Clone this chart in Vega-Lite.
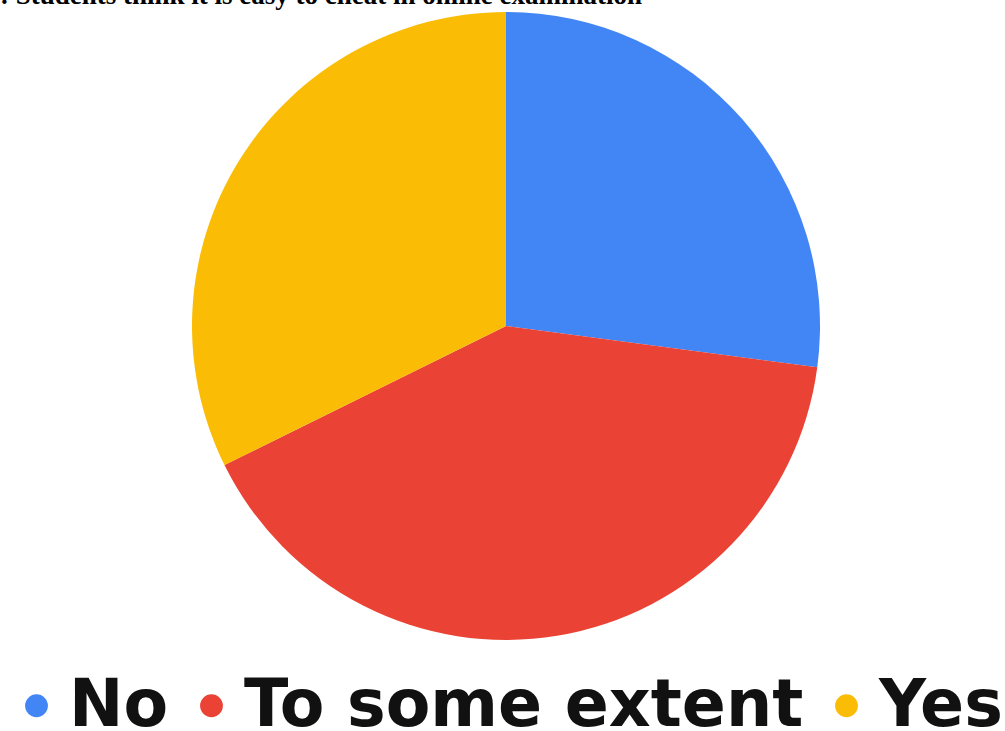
{
  "$schema": "https://vega.github.io/schema/vega-lite/v6.json",
  "autosize": "none",
  "width": 1004,
  "height": 652,
  "padding": {"left": 4, "top": 0, "right": 0, "bottom": 79},
  "background": "white",
  "title": {
    "text": ": Students think it is easy to cheat in online examination",
    "anchor": "start",
    "frame": "group",
    "font": "Liberation Serif",
    "fontSize": 27,
    "fontWeight": "bold",
    "color": "#000000",
    "baseline": "alphabetic",
    "offset": 0,
    "dx": -4,
    "dy": 31
  },
  "data": {
    "values": [
      {"answer": "No", "share": 27.1, "order": 1},
      {"answer": "To some extent", "share": 40.6, "order": 2},
      {"answer": "Yes", "share": 32.3, "order": 3}
    ]
  },
  "mark": {"type": "arc", "outerRadius": 314, "stroke": null},
  "encoding": {
    "theta": {"field": "share", "type": "quantitative", "stack": true},
    "order": {"field": "order", "type": "quantitative"},
    "color": {
      "field": "answer",
      "type": "nominal",
      "sort": ["No", "To some extent", "Yes"],
      "scale": {
        "domain": ["No", "To some extent", "Yes"],
        "range": ["#4285F4", "#EA4335", "#FBBC05"]
      },
      "legend": {
        "orient": "bottom",
        "direction": "horizontal",
        "title": null,
        "offset": 21,
        "symbolType": "circle",
        "symbolSize": 520,
        "symbolStrokeWidth": 0,
        "labelFont": "DejaVu Sans",
        "labelFontWeight": "bold",
        "labelFontSize": 65,
        "labelColor": "#111111",
        "labelOffset": 0,
        "labelLimit": 1000,
        "columnPadding": 10
      }
    }
  },
  "config": {"view": {"stroke": null}}
}
